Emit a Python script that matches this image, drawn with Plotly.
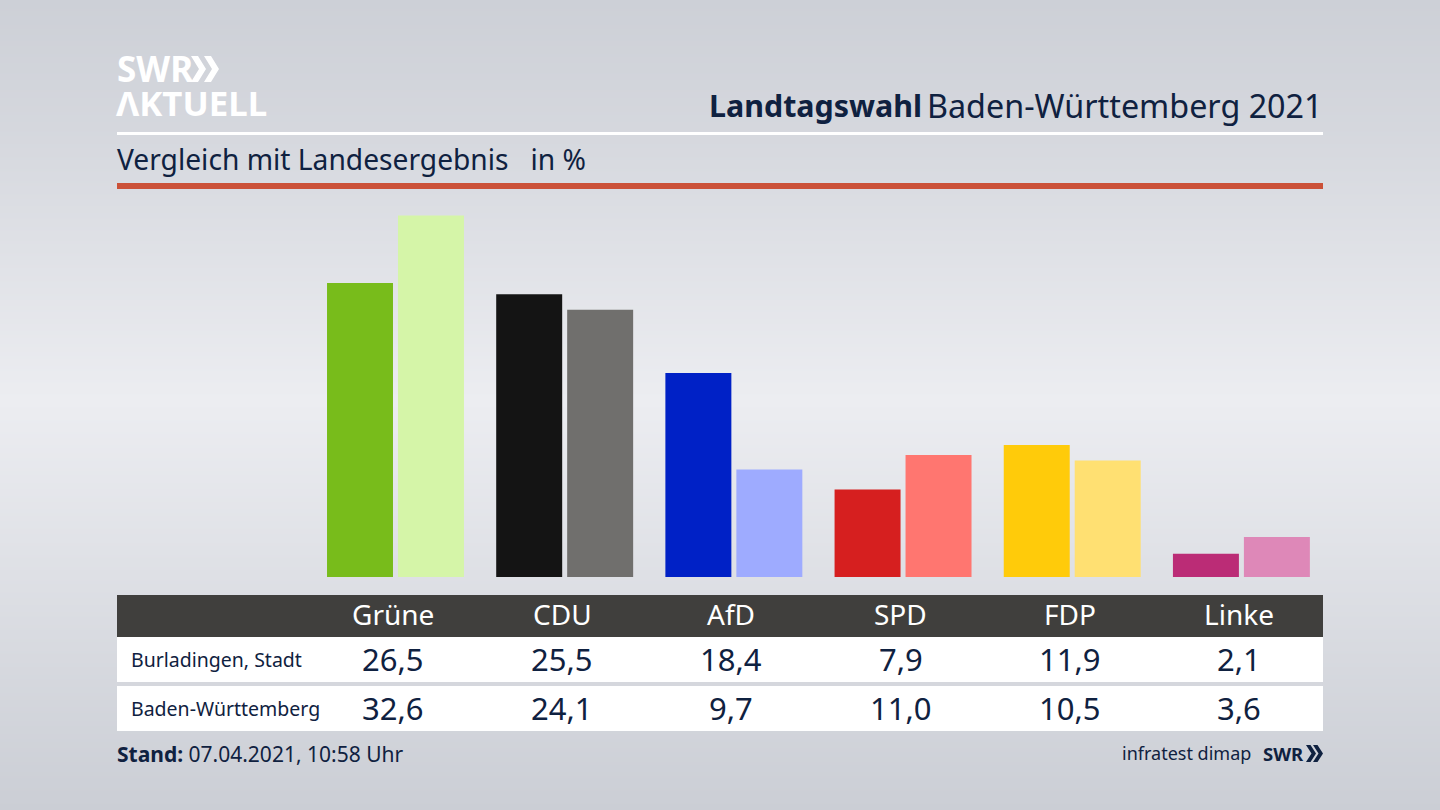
import plotly.graph_objects as go

parties = ['Grüne', 'CDU', 'AfD', 'SPD', 'FDP', 'Linke']
burladingen = [26.5, 25.5, 18.4, 7.9, 11.9, 2.1]
land = [32.6, 24.1, 9.7, 11.0, 10.5, 3.6]
colors_burladingen = ['#78bc1b', '#141414', '#0021c6', '#d61f1f', '#ffcb0a', '#bb2c76']
colors_land = ['#d5f5a8', '#706f6d', '#9eabff', '#ff7670', '#ffe072', '#de88b8']
row_labels = ['Burladingen, Stadt', 'Baden-Württemberg']

# background shades, top to bottom
bg_y = [0, 130, 270, 400, 540, 680, 810]
bg_shade = [205, 213, 225, 236, 225, 213, 203]

NAVY = '#0f2140'
FONT = 'Noto Sans'
W, H = 1440, 810


def px(x):
    return x / W


def py(y):
    return 1 - y / H


def fmt(v):
    return f'{v:.1f}'.replace('.', ',')


def rect(x0, y0, x1, y1, color):
    return dict(type='rect', xref='paper', yref='paper', x0=px(x0), x1=px(x1),
                y0=py(y0), y1=py(y1), fillcolor=color, line_width=0)


def label(x, y, text, size, color=NAVY, anchor='left', family=FONT):
    return dict(xref='paper', yref='paper', x=px(x), y=py(y), text=text, showarrow=False,
                xanchor=anchor, yanchor='middle', font=dict(size=size, color=color, family=family))


def chevron(x, top, bottom, width, thick, color):
    # one ">" of the SWR logo
    mid = (top + bottom) / 2
    pts = [(x, top), (x + thick, top), (x + width, mid), (x + thick, bottom), (x, bottom),
           (x + width - thick, mid)]
    path = 'M ' + ' L '.join(f'{px(a):.5f},{py(b):.5f}' for a, b in pts) + ' Z'
    return dict(type='path', xref='paper', yref='paper', path=path, fillcolor=color, line_width=0)


fig = go.Figure()

fig.add_trace(go.Heatmap(
    x=[0, 1], y=bg_y, z=[[s, s] for s in bg_shade], zsmooth='best', showscale=False,
    colorscale=[[0, 'rgb(203,206,213)'], [1, 'rgb(236,237,241)']], hoverinfo='skip',
    xaxis='x', yaxis='y'))

fig.add_trace(go.Bar(x=parties, y=burladingen, marker=dict(color=colors_burladingen, line_width=0),
                     xaxis='x2', yaxis='y2', name='Burladingen, Stadt'))
fig.add_trace(go.Bar(x=parties, y=land, marker=dict(color=colors_land, line_width=0),
                     xaxis='x2', yaxis='y2', name='Baden-Württemberg'))

shapes = [
    rect(117, 132, 1323, 135, 'white'),
    rect(117, 183, 1323, 189, '#cb5138'),
    rect(117, 595, 1323, 637, '#403f3d'),
    rect(117, 637, 1323, 682, 'white'),
    rect(117, 686, 1323, 731, 'white'),
    chevron(191, 56, 82, 15, 7, 'white'),
    chevron(204, 56, 82, 15, 7, 'white'),
    chevron(1306, 745, 762, 10, 4.5, NAVY),
    chevron(1313, 745, 762, 10, 4.5, NAVY),
]

annotations = [
    label(115, 69, '<b>SWR</b>', 35, 'white'),
    label(114, 103, '<b>ΛKTUELL</b>', 34.8, 'white'),
    label(707, 105, '<b>Landtagswahl</b>', 30.4),
    label(1325, 105, 'Baden-Württemberg 2021', 32.3, anchor='right'),
    label(115, 159, 'Vergleich mit Landesergebnis&nbsp;&nbsp; in %', 28.2),
    label(129, 659, row_labels[0], 19.5),
    label(129, 708, row_labels[1], 19.5),
    label(115, 754, '<b>Stand:</b> 07.04.2021, 10:58 Uhr', 21),
    label(1253, 753, 'infratest dimap', 18, anchor='right'),
    label(1306, 753, '<b>SWR</b>', 18.5, anchor='right'),
]
for i, party in enumerate(parties):
    col_x = 393 + i * 169.2
    annotations.append(label(col_x, 614, party, 28, 'white', 'center'))
    annotations.append(label(col_x, 659, fmt(burladingen[i]), 31, anchor='center'))
    annotations.append(label(col_x, 708, fmt(land[i]), 31, anchor='center'))

fig.update_layout(
    width=W, height=H, autosize=False, margin=dict(l=0, r=0, t=0, b=0),
    paper_bgcolor='#dcdee3', plot_bgcolor='rgba(0,0,0,0)', showlegend=False,
    barmode='group', bargap=0.161, bargroupgap=0.0704,
    shapes=shapes, annotations=annotations,
    xaxis=dict(domain=[0, 1], range=[0, 1], visible=False),
    yaxis=dict(domain=[0, 1], range=[810, 0], visible=False),
    xaxis2=dict(domain=[px(310.9), px(1326)], anchor='y2', visible=False, categoryorder='array',
                categoryarray=parties),
    yaxis2=dict(domain=[py(577), py(205)], range=[0, 372 / 11.09], anchor='x2', visible=False),
)

fig.write_html('out.html', config={'displayModeBar': False},
               post_script="document.body.style.margin='0';")
